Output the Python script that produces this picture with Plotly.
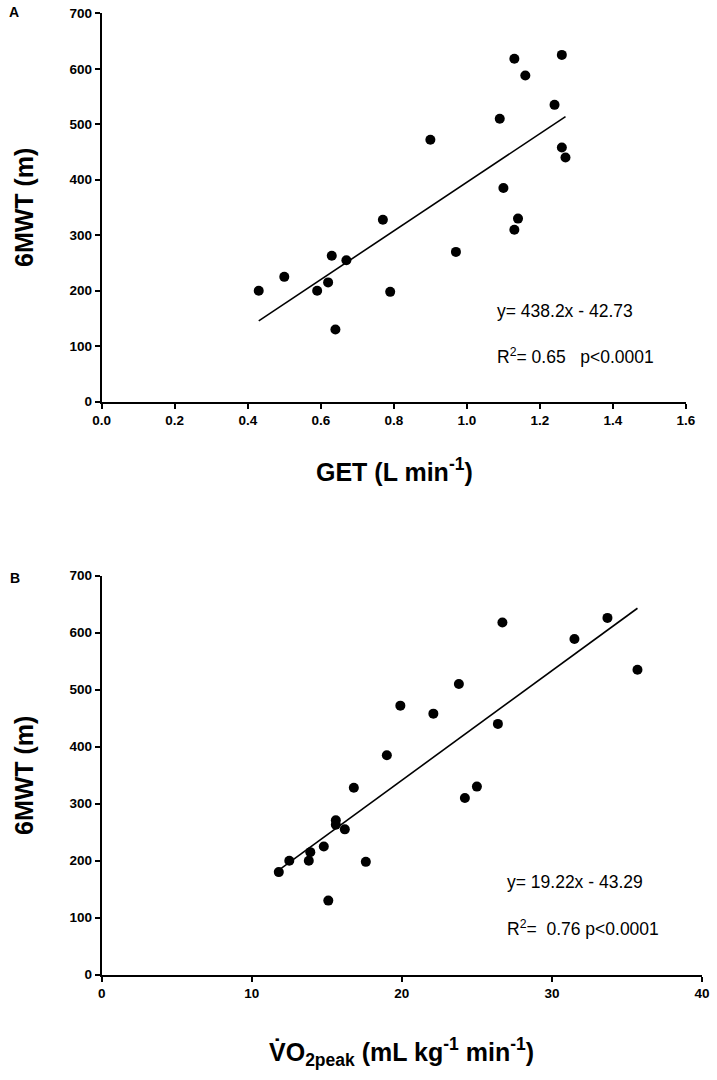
import plotly.graph_objects as go

# Panel A: GET (L/min) vs 6MWT (m)
get_x = [0.43, 0.50, 0.59, 0.62, 0.63, 0.67, 0.64, 0.77, 0.79, 0.90, 0.97,
         1.09, 1.10, 1.13, 1.13, 1.14, 1.16, 1.24, 1.26, 1.26, 1.27]
get_y = [200, 225, 200, 215, 263, 255, 130, 328, 198, 472, 270,
         510, 385, 618, 310, 330, 588, 535, 625, 458, 440]
fit_a = [438.2, -42.73]

# Panel B: VO2peak (mL/kg/min) vs 6MWT (m)
vo2_x = [11.8, 12.5, 13.8, 13.9, 14.8, 15.6, 15.6, 16.2, 17.6, 15.1, 16.8,
         19.0, 19.9, 22.1, 23.8, 24.2, 25.0, 26.4, 26.7, 31.5, 33.7, 35.7]
vo2_y = [180, 200, 200, 215, 225, 271, 263, 255, 198, 130, 328,
         385, 472, 458, 510, 310, 330, 440, 618, 589, 626, 535]
fit_b = [19.22, -43.29]

xticks_a = [0.0, 0.2, 0.4, 0.6, 0.8, 1.0, 1.2, 1.4, 1.6]
xticks_b = [0, 10, 20, 30, 40]
yticks = [0, 100, 200, 300, 400, 500, 600, 700]

W, H = 717, 1080
ML, MR, MT, MB = 80, 2, 2, 2
FONT = "Liberation Sans, Arial, sans-serif"


def px(x):
    return (x - ML) / (W - ML - MR)


def py(y):
    return 1 - (y - MT) / (H - MT - MB)


fig = go.Figure()

fig.add_trace(go.Scatter(x=get_x, y=get_y, mode="markers",
                         marker=dict(color="black", size=10),
                         xaxis="x", yaxis="y", showlegend=False, cliponaxis=False))
xa = [min(get_x), max(get_x)]
fig.add_trace(go.Scatter(x=xa, y=[fit_a[0] * v + fit_a[1] for v in xa],
                         mode="lines", line=dict(color="black", width=1.6),
                         xaxis="x", yaxis="y", showlegend=False))

fig.add_trace(go.Scatter(x=vo2_x, y=vo2_y, mode="markers",
                         marker=dict(color="black", size=10),
                         xaxis="x2", yaxis="y2", showlegend=False, cliponaxis=False))
xb = [min(vo2_x), max(vo2_x)]
fig.add_trace(go.Scatter(x=xb, y=[fit_b[0] * v + fit_b[1] for v in xb],
                         mode="lines", line=dict(color="black", width=1.6),
                         xaxis="x2", yaxis="y2", showlegend=False))

tickfont = dict(family=FONT, size=13.5, color="black", weight="bold")
common = dict(showline=True, linecolor="black", linewidth=2, ticks="outside",
              ticklen=5, tickwidth=2, tickcolor="black", showgrid=False,
              zeroline=False, tickfont=tickfont, fixedrange=True, automargin=False)

fig.update_layout(
    width=W, height=H,
    margin=dict(l=ML, r=MR, t=MT, b=MB, autoexpand=False),
    paper_bgcolor="white", plot_bgcolor="white",
    xaxis=dict(domain=[px(101.7), px(686)], range=[0, 1.6], tickvals=xticks_a,
               ticktext=[f"{v:.1f}" for v in xticks_a], anchor="y", **common),
    yaxis=dict(domain=[py(401.7), py(13.3)], range=[0, 700], tickvals=yticks,
               anchor="x", **common),
    xaxis2=dict(domain=[px(101.7), px(702)], range=[0, 40], tickvals=xticks_b,
                anchor="y2", **common),
    yaxis2=dict(domain=[py(974.7), py(575.7)], range=[0, 700], tickvals=yticks,
                anchor="x2", **common),
)

ann_font = dict(family=FONT, size=17.5, color="black")
title_font = dict(family=FONT, size=25, color="black", weight="bold")
lab_font = dict(family=FONT, size=14, color="black", weight="bold")

anns = [
    dict(text="A", x=px(14), y=py(12), font=lab_font),
    dict(text="B", x=px(15), y=py(578), font=lab_font),
    dict(text="6MWT (m)", x=px(24), y=py(208), textangle=-90, font=title_font),
    dict(text="6MWT (m)", x=px(24), y=py(776), textangle=-90, font=title_font),
    dict(text="GET (L min<sup>-1</sup>)", x=px(394), y=py(470), font=title_font),
    dict(text="V\u0307O<sub>2peak</sub> (mL kg<sup>-1</sup> min<sup>-1</sup>)",
         x=px(401), y=py(1052), font=title_font),
    dict(text="y= 438.2x - 42.73", x=px(495), y=py(311), xanchor="left", font=ann_font),
    dict(text="R<sup>2</sup>= 0.65   p&lt;0.0001", x=px(495), y=py(356), xanchor="left", font=ann_font),
    dict(text="y= 19.22x - 43.29", x=px(505), y=py(882), xanchor="left", font=ann_font),
    dict(text="R<sup>2</sup>=  0.76 p&lt;0.0001", x=px(505), y=py(928), xanchor="left", font=ann_font),
]
for a in anns:
    a.setdefault("xanchor", "center")
    fig.add_annotation(xref="paper", yref="paper", showarrow=False, yanchor="middle", **a)

# remove the browser's default 8px body margin so the figure fills the window
fig.write_html("out.html", config={"displayModeBar": False},
               post_script="document.body.style.margin='0';")
